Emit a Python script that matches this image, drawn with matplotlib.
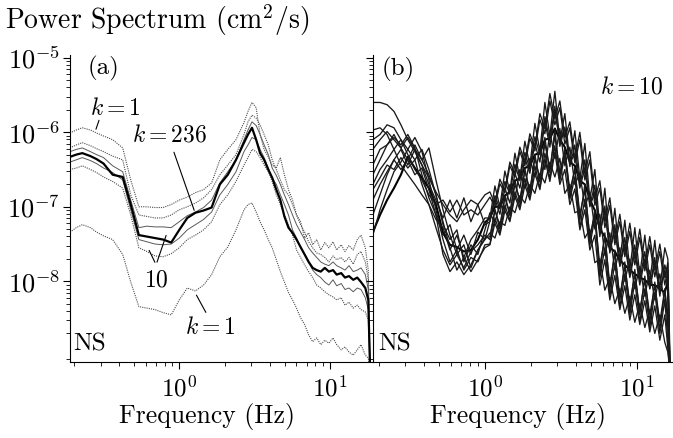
import numpy as np
import matplotlib
matplotlib.use("Agg")
import matplotlib.pyplot as plt
from matplotlib.ticker import LogLocator, NullFormatter

plt.rcParams['font.family'] = 'serif'
plt.rcParams['font.serif'] = ['cmr10']
plt.rcParams['mathtext.fontset'] = 'cm'
plt.rcParams['axes.formatter.use_mathtext'] = True

# ---- panel (a) : frequency in Hz, spectra given as log10(cm^2/s)
freq_a = [0.188, 0.207, 0.227, 0.257, 0.282, 0.314, 0.361, 0.421, 0.476, 0.539,
          0.610, 0.690, 0.781, 0.884, 1.00, 1.13, 1.28, 1.45, 1.64, 1.86,
          2.10, 2.38, 2.69, 2.86, 3.04, 3.24, 3.44, 3.66, 3.90, 4.14,
          4.41, 4.69, 4.99, 5.31, 5.65, 6.01, 6.39, 6.80, 7.23, 7.69,
          8.18, 8.70, 9.26, 9.85, 10.5, 11.1, 11.9, 12.6, 13.4, 14.3,
          15.2, 16.1, 17.2, 18.0, 18.5]

a_k1_top = [-6.01, -5.97, -5.94, -5.97, -6.01, -6.05, -6.10, -6.21, -6.64, -7.00,
            -7.00, -7.01, -7.01, -6.97, -6.91, -6.87, -6.81, -6.77, -6.68, -6.37,
            -6.23, -6.10, -5.87, -5.72, -5.60, -5.67, -6.03, -6.23, -6.33, -6.44,
            -6.48, -6.34, -6.57, -6.77, -6.91, -7.11, -7.20, -7.42, -7.35, -7.51,
            -7.44, -7.58, -7.48, -7.55, -7.47, -7.58, -7.51, -7.60, -7.52, -7.58,
            -7.44, -7.38, -7.55, -7.85, -9.19]
a_k10_hi = [-6.21, -6.17, -6.14, -6.18, -6.22, -6.26, -6.32, -6.37, -6.84, -7.11,
            -7.13, -7.15, -7.15, -7.11, -7.04, -7.00, -6.95, -6.88, -6.77, -6.57,
            -6.44, -6.30, -6.03, -5.86, -5.77, -5.81, -5.90, -6.03, -6.17, -6.37,
            -6.50, -6.64, -6.77, -6.84, -6.97, -7.11, -7.24, -7.34, -7.47, -7.55,
            -7.62, -7.64, -7.68, -7.74, -7.66, -7.71, -7.68, -7.74, -7.68, -7.77,
            -7.64, -7.60, -7.74, -7.98, -9.19]
a_hi = [-6.26, -6.23, -6.21, -6.26, -6.30, -6.34, -6.45, -6.53, -6.91, -7.28,
        -7.26, -7.27, -7.27, -7.28, -7.20, -7.12, -7.07, -7.01, -6.91, -6.68,
        -6.53, -6.37, -6.10, -5.97, -5.86, -5.91, -6.03, -6.17, -6.30, -6.48,
        -6.58, -6.70, -6.84, -6.97, -7.11, -7.24, -7.34, -7.44, -7.55, -7.62,
        -7.68, -7.74, -7.77, -7.79, -7.74, -7.79, -7.82, -7.85, -7.79, -7.87,
        -7.85, -7.82, -7.91, -8.11, -9.19]
a_k236 = [-6.33, -6.30, -6.28, -6.32, -6.36, -6.42, -6.57, -6.60, -6.97, -7.38,
          -7.40, -7.42, -7.44, -7.48, -7.31, -7.15, -7.08, -7.05, -7.01, -6.70,
          -6.57, -6.37, -6.14, -6.03, -5.94, -6.10, -6.28, -6.37, -6.50, -6.61,
          -6.77, -6.91, -7.13, -7.28, -7.35, -7.44, -7.54, -7.64, -7.74, -7.82,
          -7.85, -7.87, -7.82, -7.87, -7.85, -7.91, -7.89, -7.95, -7.93, -7.98,
          -7.95, -8.01, -8.09, -8.25, -9.19]
a_lo = [-6.40, -6.37, -6.34, -6.38, -6.42, -6.48, -6.54, -6.64, -7.04, -7.44,
        -7.47, -7.50, -7.51, -7.50, -7.42, -7.31, -7.24, -7.17, -7.07, -6.84,
        -6.70, -6.53, -6.26, -6.17, -6.07, -6.10, -6.23, -6.34, -6.48, -6.61,
        -6.70, -6.84, -6.97, -7.11, -7.31, -7.42, -7.55, -7.64, -7.74, -7.85,
        -7.91, -7.95, -8.01, -8.05, -7.98, -8.06, -8.03, -8.11, -8.09, -8.14,
        -8.09, -8.11, -8.22, -8.38, -9.19]
a_k10_lo = [-6.50, -6.48, -6.45, -6.50, -6.54, -6.60, -6.66, -6.75, -7.11, -7.55,
            -7.60, -7.66, -7.67, -7.63, -7.55, -7.44, -7.38, -7.31, -7.20, -6.97,
            -6.84, -6.66, -6.44, -6.34, -6.23, -6.26, -6.34, -6.44, -6.53, -6.66,
            -6.84, -6.97, -7.11, -7.24, -7.38, -7.58, -7.68, -7.78, -7.87, -7.95,
            -8.05, -8.09, -8.14, -8.18, -8.21, -8.25, -8.22, -8.32, -8.28, -8.36,
            -8.32, -8.38, -8.41, -8.52, -9.19]
a_k1_bot = [-7.34, -7.28, -7.24, -7.28, -7.34, -7.39, -7.44, -7.64, -8.01, -8.34,
            -8.36, -8.38, -8.42, -8.45, -8.25, -8.09, -8.13, -8.05, -7.91, -7.67,
            -7.54, -7.31, -7.04, -6.97, -6.95, -7.07, -7.20, -7.31, -7.44, -7.55,
            -7.71, -7.87, -8.01, -8.15, -8.25, -8.36, -8.49, -8.58, -8.72, -8.81,
            -8.76, -8.85, -8.79, -8.83, -8.76, -8.85, -8.92, -8.88, -8.95, -8.99,
            -8.92, -8.85, -8.99, -9.03, -9.19]

# ---- panel (b) : k = 10 realisations
freq_b = [0.183, 0.204, 0.227, 0.252, 0.280, 0.311, 0.346, 0.385, 0.428, 0.476,
          0.530, 0.589, 0.654, 0.727, 0.809, 0.899, 1.00,
          1.079, 1.164, 1.255, 1.354, 1.460, 1.576, 1.699, 1.833, 1.977, 2.133,
          2.301, 2.482, 2.677, 2.887,
          3.114, 3.359, 3.624, 3.909, 4.217, 4.549, 4.907, 5.293, 5.709, 6.159,
          6.643, 7.166, 7.730, 8.338, 8.995, 9.70, 10.46, 11.29, 12.17, 13.13,
          14.17, 15.28, 16.0, 16.5]

b_mean = [-7.34, -7.11, -6.91, -6.75, -6.57, -6.33, -6.48, -6.61, -6.75, -6.97,
          -7.35, -7.51, -7.54, -7.60, -7.58, -7.44, -7.21,
          -7.15, -7.00, -7.00, -6.85, -6.80, -6.65, -6.62, -6.48, -6.45, -6.30,
          -6.28, -6.10, -6.08, -5.95,
          -6.10, -6.20, -6.40, -6.45, -6.65, -6.70, -6.90, -7.05, -7.30, -7.40,
          -7.55, -7.60, -7.72, -7.78, -7.85, -7.90, -7.95, -7.98, -8.05, -8.05,
          -8.10, -8.15, -8.00, -9.20]
b_r1 = [-5.60, -5.60, -5.63, -5.72, -5.90, -6.10, -6.26, -6.44, -6.61, -6.80,
        -6.97, -7.11, -7.20, -7.04, -6.91, -6.97, -6.84,
        -6.80, -6.96, -6.63, -6.78, -6.40, -6.55, -6.20, -6.40, -6.02, -6.20,
        -5.75, -5.95, -5.48, -5.82,
        -5.58, -6.07, -5.86, -6.35, -6.00, -6.55, -6.26, -6.90, -6.65, -7.20,
        -6.88, -7.45, -7.10, -7.60, -7.22, -7.70, -7.30, -7.80, -7.40, -7.85,
        -7.50, -7.95, -7.75, -9.20]
b_r2 = [-6.23, -6.10, -5.99, -6.10, -6.21, -6.07, -6.23, -6.44, -6.70, -6.91,
        -7.15, -6.91, -7.15, -6.88, -7.20, -6.97, -7.24,
        -7.20, -6.90, -7.10, -6.75, -6.95, -6.55, -6.75, -6.35, -6.55, -6.15,
        -6.40, -5.85, -6.20, -5.72,
        -6.10, -5.95, -6.40, -6.30, -6.75, -6.48, -7.00, -6.80, -7.35, -7.05,
        -7.60, -7.30, -7.80, -7.50, -7.95, -7.60, -8.05, -7.70, -8.10, -7.75,
        -8.15, -7.85, -8.10, -9.20]
b_r3 = [-6.44, -6.23, -6.17, -6.03, -6.21, -6.37, -6.17, -6.37, -6.57, -6.84,
        -7.24, -7.44, -7.31, -7.74, -7.51, -7.64, -7.31,
        -7.08, -7.22, -6.95, -7.05, -6.70, -6.90, -6.50, -6.75, -6.35, -6.60,
        -6.20, -6.50, -6.00, -6.35,
        -5.95, -6.45, -6.20, -6.70, -6.55, -7.00, -6.80, -7.30, -7.10, -7.65,
        -7.35, -7.85, -7.55, -8.00, -7.70, -8.10, -7.80, -8.20, -7.85, -8.25,
        -7.90, -8.30, -8.40, -9.20]
b_r4 = [-6.70, -6.50, -6.37, -6.23, -6.10, -6.23, -6.07, -6.26, -6.64, -7.04,
        -7.44, -7.74, -7.58, -7.85, -7.68, -7.74, -7.51,
        -7.50, -7.15, -7.35, -6.98, -7.18, -6.80, -7.00, -6.62, -6.88, -6.45,
        -6.75, -6.28, -6.62, -6.18,
        -6.65, -6.30, -6.90, -6.60, -7.28, -6.90, -7.52, -7.15, -7.95, -7.55,
        -8.20, -7.75, -8.35, -7.90, -8.45, -8.00, -8.55, -8.10, -8.62, -8.15,
        -8.70, -8.25, -8.80, -9.20]
b_r5 = [-6.91, -6.70, -6.53, -6.37, -6.50, -6.37, -6.57, -6.48, -6.77, -7.11,
        -7.64, -7.87, -7.74, -7.91, -7.78, -7.58, -7.44,
        -7.35, -7.42, -7.20, -7.25, -7.00, -7.08, -6.85, -6.95, -6.70, -6.82,
        -6.55, -6.68, -6.40, -6.60,
        -6.35, -6.82, -6.70, -7.08, -7.05, -7.42, -7.30, -7.75, -7.70, -8.12,
        -7.95, -8.30, -8.10, -8.43, -8.20, -8.55, -8.30, -8.62, -8.38, -8.70,
        -8.45, -8.82, -8.95, -9.20]
b_r6 = [-5.97, -5.94, -6.03, -6.23, -6.44, -6.57, -6.70, -6.84, -6.97, -7.17,
        -7.28, -7.58, -7.38, -7.68, -7.44, -7.31, -7.15,
        -7.15, -6.72, -7.00, -6.52, -6.80, -6.28, -6.62, -6.12, -6.45, -5.88,
        -6.25, -5.60, -6.05, -5.45,
        -6.12, -5.75, -6.40, -5.98, -6.62, -6.15, -6.90, -6.50, -7.30, -6.75,
        -7.55, -7.02, -7.72, -7.18, -7.85, -7.28, -7.92, -7.38, -8.02, -7.45,
        -8.10, -7.55, -7.70, -9.20]
b_r7 = [-7.11, -6.84, -6.57, -6.37, -6.23, -6.44, -6.23, -6.37, -6.21, -6.64,
        -7.04, -7.38, -7.64, -7.51, -7.82, -7.58, -7.42,
        -7.40, -7.05, -7.25, -6.88, -7.08, -6.70, -6.90, -6.52, -6.78, -6.35,
        -6.62, -6.15, -6.50, -6.05,
        -6.55, -6.25, -6.78, -6.50, -7.10, -6.78, -7.40, -7.10, -7.80, -7.40,
        -8.05, -7.62, -8.22, -7.80, -8.30, -7.90, -8.40, -7.98, -8.45, -8.05,
        -8.55, -8.10, -8.60, -9.20]
b_r8 = [-6.57, -6.37, -6.17, -6.07, -6.17, -6.03, -6.21, -6.57, -6.88, -7.11,
        -7.38, -7.24, -7.58, -7.38, -7.64, -7.34, -7.44,
        -7.19, -6.85, -7.03, -6.66, -6.83, -6.43, -6.65, -6.27, -6.50, -6.06,
        -6.30, -5.79, -6.12, -5.65,
        -6.19, -5.93, -6.46, -6.17, -6.71, -6.37, -6.97, -6.71, -7.40, -6.99,
        -7.62, -7.24, -7.79, -7.41, -7.93, -7.51, -7.99, -7.60, -8.10, -7.68,
        -8.20, -7.78, -7.95, -9.20]
b_r9 = [-6.77, -6.61, -6.44, -6.50, -6.34, -6.48, -6.37, -6.70, -6.97, -7.28,
        -7.58, -7.78, -7.64, -7.82, -7.60, -7.51, -7.38,
        -7.44, -7.03, -7.30, -6.85, -7.12, -6.64, -6.95, -6.49, -6.82, -6.30,
        -6.67, -6.07, -6.54, -5.96,
        -6.59, -6.21, -6.86, -6.47, -7.18, -6.70, -7.45, -7.04, -7.91, -7.35,
        -8.11, -7.58, -8.25, -7.74, -8.39, -7.84, -8.45, -7.93, -8.55, -8.01,
        -8.66, -8.11, -8.50, -9.20]
b_r10 = [-6.10, -6.03, -5.90, -5.94, -6.10, -6.30, -6.50, -6.64, -6.84, -6.97,
         -6.91, -7.07, -6.91, -7.11, -7.04, -7.11, -6.97,
         -6.87, -7.00, -6.69, -6.81, -6.45, -6.60, -6.26, -6.45, -6.08, -6.25,
         -5.83, -6.02, -5.58, -5.90,
         -5.67, -6.16, -5.94, -6.41, -6.10, -6.64, -6.37, -6.98, -6.75, -7.28,
         -6.98, -7.51, -7.20, -7.67, -7.33, -7.78, -7.41, -7.86, -7.51, -7.94,
         -7.60, -8.05, -7.85, -9.20]
b_r11 = [-7.38, -7.04, -6.77, -6.53, -6.40, -6.23, -6.37, -6.23, -6.50, -6.84,
         -7.20, -7.55, -7.85, -7.68, -7.87, -7.71, -7.55,
         -7.51, -7.22, -7.38, -7.05, -7.20, -6.86, -7.04, -6.71, -6.91, -6.55,
         -6.77, -6.36, -6.66, -6.27,
         -6.70, -6.50, -6.97, -6.76, -7.31, -7.04, -7.58, -7.38, -8.05, -7.71,
         -8.25, -7.92, -8.38, -8.06, -8.52, -8.18, -8.58, -8.26, -8.68, -8.33,
         -8.79, -8.45, -8.90, -9.20]


def spec(ax, f, logp, **kw):
    ax.plot(f, 10.0 ** np.array(logp), **kw)


def style_axes(ax, xlim, label_x):
    ax.set_xscale('log')
    ax.set_yscale('log')
    ax.set_xlim(*xlim)
    ax.set_ylim(10 ** -9.08, 10 ** -4.96)
    for s in ('top', 'right'):
        ax.spines[s].set_visible(False)
    for s in ('left', 'bottom'):
        ax.spines[s].set_linewidth(0.8)
    ax.set_yticks([1e-8, 1e-7, 1e-6, 1e-5])
    ax.yaxis.set_minor_locator(LogLocator(base=10, subs=np.arange(2, 10) * 1.0, numticks=20))
    ax.yaxis.set_minor_formatter(NullFormatter())
    ax.set_xticks([1, 10])
    ax.xaxis.set_minor_locator(LogLocator(base=10, subs=np.arange(2, 10) * 1.0, numticks=20))
    ax.xaxis.set_minor_formatter(NullFormatter())
    ax.tick_params(which='major', direction='out', length=5, width=0.8, labelsize=19)
    ax.tick_params(which='minor', direction='out', length=3, width=0.6)
    ax.tick_params(axis='x', pad=5, labelsize=18)
    ax.tick_params(axis='y', pad=2)
    ax.set_xlabel('Frequency (Hz)', fontsize=18.5, va='top')
    ax.xaxis.set_label_coords(label_x, -0.135)


fig = plt.figure(figsize=(6.73, 4.38), dpi=100)
ax_a = fig.add_axes([0.104, 0.174, 0.449, 0.701])
ax_b = fig.add_axes([0.554, 0.174, 0.446, 0.701])

# panel (a)
dot = dict(color='0.3', lw=0.8, ls=(0, (1, 1)))
thin = dict(color='0.35', lw=0.7)
spec(ax_a, freq_a, a_k1_top, **dot)
spec(ax_a, freq_a, a_k10_hi, **dot)
spec(ax_a, freq_a, a_hi, **thin)
spec(ax_a, freq_a, a_lo, **thin)
spec(ax_a, freq_a, a_k10_lo, **dot)
spec(ax_a, freq_a, a_k1_bot, **dot)
spec(ax_a, freq_a, a_k236, color='black', lw=1.6)
style_axes(ax_a, (0.188, 19.1), 0.454)

ta = ax_a.transAxes
ax_a.text(0.11, 0.955, '(a)', transform=ta, fontsize=18, ha='center', va='center')
ax_a.text(0.066, 0.055, 'NS', transform=ta, fontsize=18, ha='center', va='center')
ax_a.text(0.152, 0.824, r'$k{=}1$', transform=ta, fontsize=17, ha='center', va='center')
ax_a.text(0.331, 0.736, r'$k{=}236$', transform=ta, fontsize=17, ha='center', va='center')
ax_a.text(0.285, 0.265, r'$10$', transform=ta, fontsize=17, ha='center', va='center')
ax_a.text(0.464, 0.111, r'$k{=}1$', transform=ta, fontsize=17, ha='center', va='center')
line = dict(arrowstyle='-', lw=0.8, color='black')
ax_a.annotate('', xy=(0.083, 0.749), xytext=(0.099, 0.795), xycoords=ta, arrowprops=line)
ax_a.annotate('', xy=(0.414, 0.485), xytext=(0.341, 0.691), xycoords=ta, arrowprops=line)
ax_a.annotate('', xy=(0.258, 0.371), xytext=(0.285, 0.316), xycoords=ta, arrowprops=line)
ax_a.annotate('', xy=(0.321, 0.420), xytext=(0.285, 0.316), xycoords=ta, arrowprops=line)
ax_a.annotate('', xy=(0.414, 0.225), xytext=(0.454, 0.153), xycoords=ta, arrowprops=line)

# panel (b): mean drawn first, the realisations cover it in the dense band
spec(ax_b, freq_b, b_mean, color='black', lw=1.5, zorder=1.5)
grey = dict(color='0.1', lw=0.95, zorder=2)
for r in (b_r1, b_r2, b_r3, b_r4, b_r5, b_r6, b_r7, b_r8, b_r9, b_r10, b_r11):
    spec(ax_b, freq_b, r, **grey)
style_axes(ax_b, (0.183, 17.3), 0.483)
ax_b.tick_params(axis='y', labelleft=False)

tb = ax_b.transAxes
ax_b.text(0.083, 0.951, '(b)', transform=tb, fontsize=18, ha='center', va='center')
ax_b.text(0.073, 0.055, 'NS', transform=tb, fontsize=18, ha='center', va='center')
ax_b.text(0.863, 0.892, r'$k{=}10$', transform=tb, fontsize=17, ha='center', va='center')

fig.text(0.008, 0.954, r'Power Spectrum (cm$^2$/s)', fontsize=20, ha='left', va='center')

fig.savefig('out.png', dpi=100)
